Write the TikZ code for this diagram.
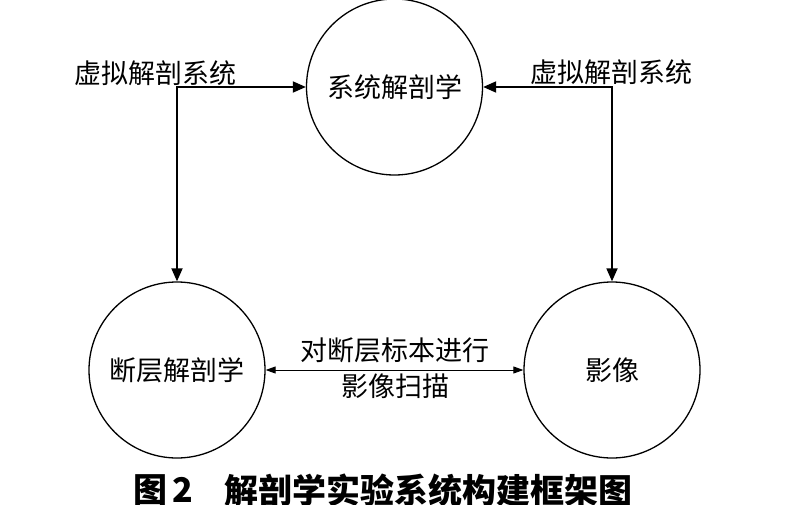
\documentclass[tikz,border=0pt]{standalone}
\usepackage{fontspec}
\setmainfont{Noto Sans CJK SC}
\newfontfamily\cjk{Noto Sans CJK SC}
\usetikzlibrary{arrows.meta}
\begin{document}
\begin{tikzpicture}[x=1pt,y=-1pt,
  circ/.style={circle,draw,line width=1.3pt,minimum size=176pt,inner sep=0pt,font=\cjk\fontsize{27}{31}\selectfont},
  thick arrow/.style={line width=1.8pt,{Triangle[length=13pt,width=11pt]}-{Triangle[length=13pt,width=11pt]}},
  thin arrow/.style={line width=0.9pt,{Triangle[length=10pt,width=7pt]}-{Triangle[length=10pt,width=7pt]}},
  lbl/.style={font=\cjk\fontsize{27}{31}\selectfont,inner sep=0pt},
  captext/.style={font=\cjk\bfseries\fontsize{34}{38}\selectfont,inner sep=0pt,anchor=west}]
\useasboundingbox (0,0) rectangle (789,505);
\fill[white] (0,0) rectangle (789,505);
\node[circ] (tc) at (394.5,87) {系统解剖学};
\node[circ] (bl) at (177,370) {断层解剖学};
\node[circ] (br) at (612,370) {影像};
\draw[thick arrow] (bl.north) |- (tc.west);
\draw[thick arrow] (tc.east) -| (br.north);
\draw[thin arrow] (bl.east) -- (br.west);
\node[lbl] (l1) at (155,73) {虚拟解剖系统};
\node[lbl] (l2) at (611.5,72) {虚拟解剖系统};
\node[lbl] (m1) at (395,350) {对断层标本进行};
\node[lbl] (m2) at (395,386) {影像扫描};
\node[captext] (c1) at (133,490) {图\,2};
\node[captext] (c2) at (224,490) {解剖学实验系统构建框架图};
\end{tikzpicture}
\end{document}
